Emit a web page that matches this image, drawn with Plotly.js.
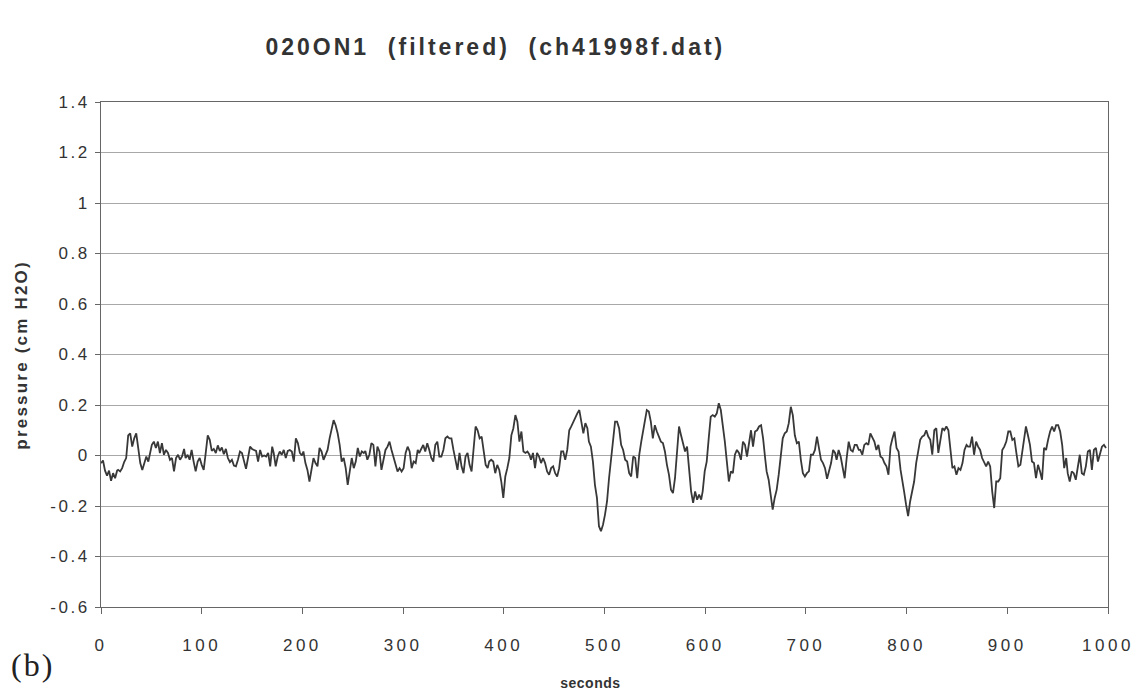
<!DOCTYPE html>
<html>
<head>
<meta charset="utf-8">
<script src="https://cdn.plot.ly/plotly-3.0.1.min.js"></script>
<style>
html,body{margin:0;padding:0;background:#fff;}
#chart{width:1144px;height:693px;}
.xtick text{letter-spacing:3.5px;}
.ytick text{letter-spacing:2.5px;}
.gtitle{letter-spacing:3px;}
g.annotation[data-index="0"] text{letter-spacing:2.2px;}
g.annotation[data-index="1"] text{letter-spacing:0.5px;}
g.annotation[data-index="2"] text{letter-spacing:2px;}
</style>
</head>
<body>
<div id="chart"></div>
<script>
// time (s) and filtered pressure (cm H2O), by segment
const t0 = [0,2,4,6,8,10,12,14,16];
const p0 = [-0.03,-0.02,-0.06,-0.08,-0.06,-0.1,-0.07,-0.09,-0.06];
const t1 = [17,19,21,23,25,27,29,31,33,35,37,39,41,43,45,47,49,50.5,52.5,54.5,56.5,58.5,60.5,62.5,64.5,66.5,68.5,70.5,72.5,74.5,76.5,78.5,80.5,82.5,84,86,88,90,92,94,96,98,100,102,104,106,108,110,112,114,116,118,120,122,124,126,128,130,132,134,136,138,140,142];
const p1 = [-0.057,-0.063,-0.05,-0.026,-0.01,0.08,0.088,0.035,0.068,0.088,0.035,-0.03,-0.057,-0.03,-0.004,-0.024,0.01,0.042,0.055,0.03,0.055,0.01,0.049,0.003,0.022,0.01,-0.017,-0.01,-0.063,-0.01,0.003,-0.017,-0.004,0.026,-0.01,0.003,-0.017,0.022,-0.024,-0.063,-0.024,-0.01,-0.037,-0.057,0.01,0.08,0.062,0.018,0.026,0.01,0.04,0.018,0.032,0.005,0.026,-0.01,-0.026,-0.017,-0.04,-0.043,-0.017,0.016,0.01,-0.017];
const t2 = [144,146,148,150,152,154,156,158,160,162,164,166,168,170,171.5,173.5,175.5,177.5,179.5,181.5,183.5,185.5,187.5,189.5,191.5,193.5,195.5,197.5,199.5,201,203,205,207,209,211,213,215,217,219,221,223,225,227,229,231,233,235,237,239,241,243,245,247,249,251,253,255,257,259,261,262.5];
const p2 = [-0.053,-0.01,0.035,0.026,0.022,0.018,-0.024,0.022,-0.004,0.0,-0.004,0.01,-0.043,0.035,0.01,-0.043,-0.004,0.016,0.003,0.022,-0.01,0.018,0.022,0.016,-0.024,0.068,0.049,0.01,0.0,0.016,-0.03,-0.057,-0.103,-0.05,-0.01,-0.03,-0.043,0.03,0.016,-0.017,0.003,0.022,0.068,0.108,0.14,0.12,0.088,0.042,-0.024,-0.01,-0.05,-0.116,-0.063,-0.01,-0.05,-0.024,0.03,-0.004,0.016,0.01,0.018];
const t3 = [264.5,266.5,268.5,270.5,272.5,274.5,276.5,278.5,280.5,282.5,284.5,286.5,288.5,290.5,292.5,294.5,296.5,298.5,300.5,302.5,304.5,306.5,308.5,310.5,312.5,314.5,316,318,320,322,324,326,328,330,332,334,336,338,340,342,344,346,348,350,352,354,356,358,360,362,364,366,368,370,372,374,376,378,380,382,384];
const p3 = [-0.017,0.003,0.049,0.042,-0.043,0.035,0.016,-0.057,-0.01,0.022,0.035,0.055,0.022,-0.01,-0.03,-0.063,-0.05,-0.063,-0.05,0.01,0.035,0.016,-0.05,-0.024,-0.03,0.022,0.01,0.03,0.042,0.016,0.049,0.022,-0.01,-0.024,0.042,0.055,-0.004,-0.004,0.022,0.068,0.075,0.068,0.068,0.022,-0.024,-0.057,0.01,-0.043,-0.07,-0.004,0.01,-0.037,-0.063,0.016,0.115,0.1,0.068,0.075,0.022,-0.037,-0.05];
const t4 = [385.5,387.5,389.5,391.5,393.5,395.5,397.5,399.5,401.5,403.5,405.5,407.5,409.5,411.5,413.5,415.5,417.5,419.5,421.5,423.5,425.5,427,429,431,433,435,437,439,441,443,445,447,449,451,453,455,457,459,461,463,465,467,469,471,473,475,477,479,481,483,484.5,486.5,488.5,490.5,492.5,494.5,496.5,498.5,500.5,502.5,504.5,506.5];
const p4 = [-0.024,-0.017,-0.024,-0.07,-0.037,-0.057,-0.103,-0.168,-0.083,-0.05,-0.01,0.08,0.108,0.16,0.134,0.055,0.095,0.016,0.01,0.016,0.003,-0.017,0.01,-0.05,0.01,-0.004,-0.03,-0.01,-0.03,-0.063,-0.076,-0.05,-0.043,-0.07,-0.083,-0.05,0.016,0.016,-0.017,0.022,0.1,0.115,0.134,0.147,0.167,0.18,0.128,0.088,0.128,0.108,0.055,0.035,-0.024,-0.116,-0.168,-0.28,-0.3,-0.274,-0.234,-0.182,-0.09,-0.01];
const t5 = [508.5,510.5,512.5,514.5,516.5,518.5,520.5,522.5,524.5,526.5,528.5,530.5,532.5,534.5,536.5,538.5,540.5,542,544,546,548,550,552,554,556,558,560,562,564,566,568,570,572,574,576,578,580,582,584,586,588,590,592,594,596,597.5,599.5,601.5,603.5,605.5,607.5,609.5,611.5,613.5,615.5,617.5,619.5,621.5,623.5,625.5,627.5,629.5];
const p5 = [0.068,0.134,0.134,0.108,0.042,0.022,-0.017,-0.024,-0.07,-0.083,-0.004,-0.01,-0.09,0.003,0.055,0.1,0.134,0.18,0.174,0.134,0.068,0.12,0.095,0.075,0.055,0.049,0.016,-0.037,-0.076,-0.135,-0.149,-0.09,0.022,0.115,0.08,0.049,0.016,0.035,-0.07,-0.142,-0.188,-0.142,-0.175,-0.155,-0.175,-0.142,-0.063,-0.024,0.068,0.154,0.16,0.154,0.167,0.207,0.18,0.12,0.055,-0.024,-0.103,-0.063,-0.07,0.003];
const t6 = [631.5,633.5,635.5,637.5,639.5,641.5,643.5,645.5,647.5,649.5,651.5,653.5,655.5,657.5,659.5,661,663,665,667,669,671,673,675,677,679,681,683,685,687,689,691,693,695,697,699,701,703,705,707,709,711,713,715,717,719,721,723,725,727,729,730.5,732.5,734.5,736.5,738.5,740.5,742.5,744.5,746.5,748.5,750.5,752.5];
const p6 = [0.022,0.01,-0.017,0.055,0.042,-0.004,0.049,0.1,0.035,0.095,0.1,0.115,0.12,0.068,-0.01,-0.063,-0.096,-0.168,-0.214,-0.168,-0.135,-0.076,-0.01,0.068,0.088,0.095,0.128,0.193,0.16,0.08,0.049,0.055,-0.017,-0.07,-0.083,-0.07,-0.063,0.003,0.003,0.022,0.075,0.035,-0.017,-0.03,-0.05,-0.092,-0.057,-0.03,0.022,0.01,-0.017,0.022,-0.004,-0.043,-0.09,-0.01,0.055,0.022,0.016,0.042,0.042,0.022];
const t7 = [754,756,758,760,762,764,766,768,770,772,774,776,778,780,782,784,786,788,790,792,794,795.5,797.5,799.5,801.5,803.5,805.5,807.5,809.5,811.5,813.5,815.5,817.5,819.5,821.5,823.5,825.5,827.5,829.5,831.5,833.5,835.5,837.5,839.5,841.5,843.5,845.5,847.5,849.5,851.5,853.5,855.5,857.5,859.5,861,863,865,867,869,871,873,875];
const p7 = [0.022,0.003,0.042,0.049,0.042,0.088,0.068,0.055,0.022,0.042,-0.004,-0.01,-0.03,-0.043,-0.076,0.035,0.068,0.095,0.03,0.016,-0.057,-0.09,-0.142,-0.195,-0.24,-0.182,-0.142,-0.103,-0.03,0.01,0.062,0.075,0.08,0.1,0.075,0.062,0.003,0.1,0.108,0.01,0.068,0.108,0.1,0.115,0.1,0.01,-0.05,-0.043,-0.076,-0.05,-0.057,-0.03,0.022,0.042,0.035,0.035,0.075,0.003,0.055,0.035,0.022,-0.01];
const t8 = [877,879,881,883,885,887,889,891,893,895,897,899,901,903,905,907,909,911,913,915,917,918.5,920.5,922.5,924.5,926.5,928.5,930.5,932.5,934.5,936.5,938.5,940.5,942.5,944.5,946.5,948.5,950.5,952.5,954.5,956.5,958.5,960,962,964,966,968,970,972,974,976,978,980,982,984,986,988,990,992,994,996,998];
const p8 = [-0.03,-0.043,-0.024,-0.043,-0.142,-0.208,-0.103,-0.103,-0.09,0.022,0.035,0.055,0.095,0.095,0.062,0.068,0.01,-0.043,-0.037,0.016,0.08,0.115,0.08,0.042,-0.024,-0.03,-0.09,-0.037,-0.063,-0.096,0.03,0.022,0.062,0.095,0.115,0.095,0.12,0.12,0.095,0.042,-0.05,-0.01,-0.07,-0.103,-0.063,-0.07,-0.096,-0.05,0.003,-0.07,-0.076,-0.043,0.016,0.022,-0.057,0.022,0.03,-0.024,0.01,0.035,0.042,0.03];

const yTickVals = [1.4,1.2,1,0.8,0.6,0.4,0.2,0,-0.2,-0.4,-0.6];
const yTickText = ['1.4','1.2','1','0.8','0.6','0.4','0.2','0','-0.2','-0.4','-0.6'];
const xTickVals = [0,100,200,300,400,500,600,700,800,900,1000];

const seconds = [].concat(t0,t1,t2,t3,t4,t5,t6,t7,t8);
const pressure = [].concat(p0,p1,p2,p3,p4,p5,p6,p7,p8);

const FONT = '"Liberation Sans", Arial, Helvetica, sans-serif';

const trace = {
  x: seconds, y: pressure, type: 'scatter', mode: 'lines',
  line: {color: '#383838', width: 1.8},
  hoverinfo: 'skip'
};

const layout = {
  width: 1144, height: 693,
  margin: {l: 101, r: 36, t: 102, b: 86, pad: 0},
  paper_bgcolor: '#fff', plot_bgcolor: '#fff',
  showlegend: false,
  title: {
    text: '<b>020ON1  (filtered)  (ch41998f.dat)</b>',
    font: {family: FONT, size: 23, color: '#333'},
    x: 0.433, xref: 'container', xanchor: 'center',
    y: 0.932, yref: 'container', yanchor: 'middle'
  },
  xaxis: {
    range: [0, 1000], tickvals: xTickVals,
    showgrid: false, zeroline: false,
    showline: true, linecolor: '#666', linewidth: 1, mirror: true,
    ticks: 'outside', ticklen: 6, tickcolor: '#666',
    ticklabelstandoff: 17,
    tickfont: {family: FONT, size: 17, color: '#333'}
  },
  yaxis: {
    range: [-0.6, 1.4], tickvals: yTickVals, ticktext: yTickText,
    showgrid: true, gridcolor: '#a8a8a8', gridwidth: 1,
    zeroline: false,
    showline: true, linecolor: '#666', linewidth: 1, mirror: true,
    ticks: 'outside', ticklen: 5, tickcolor: '#666',
    ticklabelstandoff: 2,
    tickfont: {family: FONT, size: 17, color: '#333'}
  },
  annotations: [
    {text: '<b>pressure (cm H2O)</b>', textangle: -90, showarrow: false,
     xref: 'paper', yref: 'paper', x: -0.079, y: 0.5, xanchor: 'center', yanchor: 'middle',
     font: {family: FONT, size: 17, color: '#333'}},
    {text: '<b>seconds</b>', showarrow: false,
     xref: 'paper', yref: 'paper', x: 0.486, y: -0.150, xanchor: 'center', yanchor: 'middle',
     font: {family: FONT, size: 14, color: '#333'}},
    {text: '(b)', showarrow: false,
     xref: 'paper', yref: 'paper', x: -0.088, y: -0.115, xanchor: 'left', yanchor: 'middle',
     font: {family: '"Liberation Serif", "DejaVu Serif", serif', size: 32, color: '#222'}}
  ]
};

Plotly.newPlot('chart', [trace], layout, {displayModeBar: false, staticPlot: true});
</script>
</body>
</html>
